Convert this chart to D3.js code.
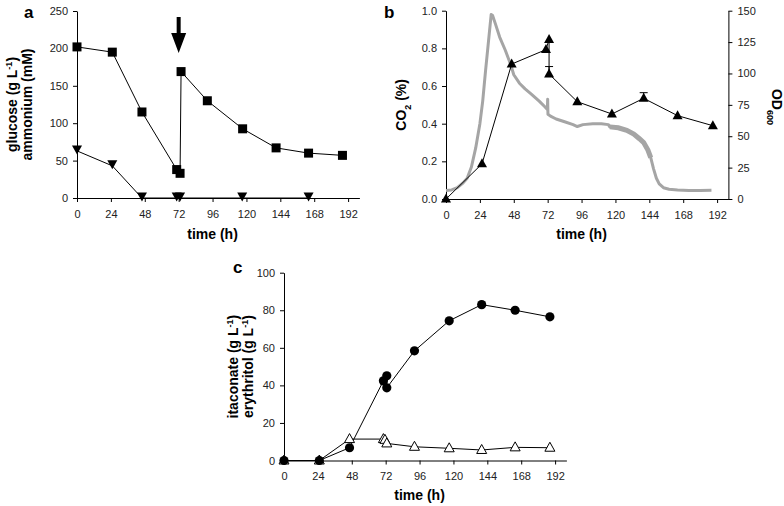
<!DOCTYPE html>
<html><head><meta charset="utf-8">
<script src="https://cdn.jsdelivr.net/npm/d3@7"></script>
<style>
body{margin:0;background:#fff}
svg{display:block}
text{font-family:"Liberation Sans",Arial,sans-serif}
</style>
</head><body>
<svg id="chart" width="784" height="506"></svg>
<script>
// ---------- shared ----------
const timeTicks = [0, 24, 48, 72, 96, 120, 144, 168, 192];

// ---------- panel a ----------
const glucoseTime = [0, 25, 46, 70.6, 73, 73.7, 92.3, 117.3, 141, 164, 188];
const glucose     = [202, 195, 115, 38, 33, 169, 130, 92.5, 67, 60, 57];
const ammoniumTime = [0, 25, 46, 70.6, 73, 117, 164];
const ammonium     = [63, 43, 0, 0, 0, 0, 0];
const glucoseTicks = [0, 50, 100, 150, 200, 250];
const feedArrow = {time: 72, from: 242, to: 194};

// ---------- panel b ----------
const odTime = [0, 25.5, 46.5, 70.8, 73, 73, 93, 117.5, 140, 164, 189];
const od     = [0, 28, 107.5, 119, 127, 99.6, 77.5, 67.7, 80.2, 66.4, 58.4];
const odErrTime = [73, 140];
const odErrHigh = [105.5, 84.7];
const odTicks = [0, 25, 50, 75, 100, 125, 150];
const co2Ticks = [0, 0.2, 0.4, 0.6, 0.8, 1.0];
const co2Time = [0, 4, 8, 12, 15, 18, 21, 24, 26, 28, 30, 32, 33, 35, 38, 42, 46, 48, 52, 56, 60, 66, 70, 71.8, 72, 72.2, 74, 78, 84, 90, 93, 97, 104, 110, 115, 116, 122, 128, 133, 137, 140, 143, 145, 147, 149, 151, 154, 158, 164, 172, 180, 188];
const co2      = [0.045, 0.048, 0.06, 0.085, 0.11, 0.17, 0.27, 0.40, 0.52, 0.68, 0.83, 0.98, 0.975, 0.93, 0.86, 0.79, 0.71, 0.66, 0.615, 0.585, 0.56, 0.52, 0.49, 0.475, 0.53, 0.45, 0.44, 0.425, 0.41, 0.395, 0.385, 0.395, 0.4, 0.4, 0.395, 0.383, 0.378, 0.365, 0.345, 0.32, 0.30, 0.26, 0.22, 0.16, 0.11, 0.08, 0.06, 0.052, 0.048, 0.045, 0.045, 0.046];

// ---------- panel c ----------
const itaconateTime = [0, 25, 46.4, 70.4, 72.8, 72.8, 92.4, 117, 140, 163.7, 188.3];
const itaconate     = [0, 0, 6.8, 42.4, 45.1, 38.7, 58.4, 74.4, 83, 80, 76.5];
const erythritolTime = [0, 25, 46.4, 70.4, 71.5, 72.8, 92.4, 117, 140, 163.7, 188.3];
const erythritol     = [0, 0, 11.4, 11.4, 11, 9.1, 7.3, 6.5, 5.6, 7.0, 6.8];
const productTicks = [0, 20, 40, 60, 80, 100];

// ---------- drawing ----------
const svg = d3.select("#chart");
svg.append("rect").attr("width", 784).attr("height", 506).attr("fill", "#fff");

const TICKFONT = 11, TITLEFONT = 14;

function styleAxis(g) {
  g.selectAll("path.domain").attr("stroke", "#000").attr("stroke-width", 1);
  g.selectAll(".tick line").attr("stroke", "#000").attr("stroke-width", 1);
  g.selectAll(".tick text").attr("font-size", TICKFONT).attr("fill", "#222")
    .attr("font-family", '"Liberation Sans",Arial,sans-serif');
}
function xAxis(x, yPix) {
  const g = svg.append("g").attr("transform", `translate(0,${yPix})`)
    .call(d3.axisBottom(x).tickValues(timeTicks).tickSize(4).tickPadding(8).tickSizeOuter(0));
  styleAxis(g);
  return g;
}
function yAxisLeft(y, xPix, ticks, fmt) {
  const g = svg.append("g").attr("transform", `translate(${xPix},0)`)
    .call(d3.axisLeft(y).tickValues(ticks).tickSize(4).tickPadding(5).tickSizeOuter(0).tickFormat(fmt || d3.format("d")));
  styleAxis(g);
  return g;
}
function timeTitle(x) {
  const [a, b] = x.range();
  svg.append("text").attr("x", (a + b) / 2 - 20).attr("y", 0)
    .attr("text-anchor", "middle").attr("font-weight", "bold").attr("font-size", TITLEFONT)
    .text("time (h)");
}
function panelLabel(txt, x, y) {
  svg.append("text").attr("x", x).attr("y", y).attr("font-weight", "bold").attr("font-size", 17).text(txt);
}
function rotatedTitle(x, y, angle, parts) {
  const t = svg.append("text").attr("transform", `translate(${x},${y}) rotate(${angle})`)
    .attr("text-anchor", "middle").attr("font-weight", "bold").attr("font-size", TITLEFONT);
  parts.forEach(p => {
    const s = t.append("tspan").text(p.t);
    if (p.sup) s.attr("baseline-shift", "super").attr("font-size", 9);
    if (p.sub) s.attr("baseline-shift", "sub").attr("font-size", 9);
  });
}
const trianglePath = (w, h, down) => down
  ? `M${-w/2},${-h/2}L${w/2},${-h/2}L0,${h/2}Z`
  : `M${-w/2},${h/2}L${w/2},${h/2}L0,${-h/2}Z`;

// ===== Panel a =====
const xA = d3.scaleLinear().domain([0, 200]).range([77, 359.4]);
const yA = d3.scaleLinear().domain([0, 250]).range([198, 11]);
xAxis(xA, yA(0));
yAxisLeft(yA, xA(0), glucoseTicks);
svg.append("text").attr("x", (xA(0) + xA(192)) / 2).attr("y", yA(0) + 41)
  .attr("text-anchor", "middle").attr("font-weight", "bold").attr("font-size", TITLEFONT).text("time (h)");
rotatedTitle(17, (yA(0) + yA(250)) / 2, -90, [{t: "glucose (g L"}, {t: "-1", sup: true}, {t: ")"}]);
rotatedTitle(32, (yA(0) + yA(250)) / 2, -90, [{t: "ammonium (mM)"}]);
panelLabel("a", 24, 18);

const lineA = (ts, vs) => d3.line().x((d, i) => xA(ts[i])).y(d => yA(d))(vs);
svg.append("path").attr("d", lineA(glucoseTime, glucose)).attr("fill", "none").attr("stroke", "#000").attr("stroke-width", 1);
svg.append("path").attr("d", lineA(ammoniumTime, ammonium)).attr("fill", "none").attr("stroke", "#000").attr("stroke-width", 1);
svg.selectAll(null).data(glucose).enter().append("rect")
  .attr("x", (d, i) => xA(glucoseTime[i]) - 4.5).attr("y", d => yA(d) - 4.5)
  .attr("width", 9).attr("height", 9).attr("fill", "#000");
svg.selectAll(null).data(ammonium).enter().append("path")
  .attr("transform", (d, i) => `translate(${xA(ammoniumTime[i])},${yA(d) - 1})`)
  .attr("d", trianglePath(10, 9, true)).attr("fill", "#000");
// feed arrow
{
  const ax = xA(feedArrow.time), y0 = yA(feedArrow.from), y1 = yA(feedArrow.to);
  const headLen = 20, headW = 15, shaftW = 4;
  const yh = y1 - headLen;
  svg.append("path").attr("fill", "#000")
    .attr("d", `M${ax - shaftW/2},${y0}L${ax + shaftW/2},${y0}L${ax + shaftW/2},${yh}L${ax + headW/2},${yh}L${ax},${y1}L${ax - headW/2},${yh}L${ax - shaftW/2},${yh}Z`);
}

// ===== Panel b =====
const xB = d3.scaleLinear().domain([0, 200]).range([446, 728.4]);
const yB = d3.scaleLinear().domain([0, 1]).range([199, 10.7]);
const yOD = d3.scaleLinear().domain([0, 150]).range([199, 10.7]);
xAxis(xB, yB(0));
yAxisLeft(yB, xB(0), co2Ticks, d3.format(".1f"));
{
  const g = svg.append("g").attr("transform", `translate(${xB(200)},0)`)
    .call(d3.axisRight(yOD).tickValues(odTicks).tickSize(4).tickPadding(5).tickSizeOuter(0));
  styleAxis(g);
}
svg.append("text").attr("x", (xB(0) + xB(192)) / 2).attr("y", yB(0) + 40)
  .attr("text-anchor", "middle").attr("font-weight", "bold").attr("font-size", TITLEFONT).text("time (h)");
rotatedTitle(406, (yB(0) + yB(1)) / 2, -90, [{t: "CO"}, {t: "2", sub: true}, {t: " (%)"}]);
rotatedTitle(772, 107, 90, [{t: "OD"}, {t: "600", sub: true}]);
panelLabel("b", 384, 18);

const co2Line = d3.line().x((d, i) => xB(co2Time[i])).y(d => yB(d));
svg.append("path").attr("d", co2Line(co2)).attr("fill", "none").attr("stroke", "#a5a5a5")
  .attr("stroke-width", 3).attr("stroke-linejoin", "round");
// noisier (thicker) part of the CO2 trace
{
  const idx = co2Time.map((t, i) => i).filter(i => co2Time[i] >= 116 && co2Time[i] <= 146);
  const sub = idx.map(i => [xB(co2Time[i]), yB(co2[i])]);
  svg.append("path").attr("d", d3.line()(sub)).attr("fill", "none").attr("stroke", "#a5a5a5").attr("stroke-width", 5);
}
const odLine = d3.line().x((d, i) => xB(odTime[i])).y(d => yOD(d));
svg.append("path").attr("d", odLine(od)).attr("fill", "none").attr("stroke", "#000").attr("stroke-width", 1);
odErrTime.forEach((t, i) => {
  const xi = odTime.findIndex((tt, k) => tt === t && (i === 0 ? od[k] < 110 : true));
  const x = xB(t), yTop = yOD(odErrHigh[i]), yC = yOD(od[xi]);
  svg.append("line").attr("x1", x).attr("x2", x).attr("y1", yC).attr("y2", yTop).attr("stroke", "#000");
  svg.append("line").attr("x1", x - 4).attr("x2", x + 4).attr("y1", yTop).attr("y2", yTop).attr("stroke", "#000");
});
svg.selectAll(null).data(od).enter().append("path")
  .attr("transform", (d, i) => `translate(${xB(odTime[i])},${yOD(d) - 1})`)
  .attr("d", trianglePath(10, 9, false)).attr("fill", "#000");

// ===== Panel c =====
const xC = d3.scaleLinear().domain([0, 200]).range([284, 566.4]);
const yC = d3.scaleLinear().domain([0, 100]).range([460.5, 272.7]);
xAxis(xC, yC(0));
yAxisLeft(yC, xC(0), productTicks);
svg.append("text").attr("x", (xC(0) + xC(192)) / 2).attr("y", yC(0) + 39)
  .attr("text-anchor", "middle").attr("font-weight", "bold").attr("font-size", TITLEFONT).text("time (h)");
rotatedTitle(238, (yC(0) + yC(100)) / 2, -90, [{t: "itaconate (g L"}, {t: "-1", sup: true}, {t: ")"}]);
rotatedTitle(253, (yC(0) + yC(100)) / 2, -90, [{t: "erythritol (g L"}, {t: "-1", sup: true}, {t: ")"}]);
panelLabel("c", 233, 273);

const lineC = (ts, vs) => d3.line().x((d, i) => xC(ts[i])).y(d => yC(d))(vs);
svg.append("path").attr("d", lineC(erythritolTime, erythritol)).attr("fill", "none").attr("stroke", "#000").attr("stroke-width", 1);
svg.append("path").attr("d", lineC(itaconateTime, itaconate)).attr("fill", "none").attr("stroke", "#000").attr("stroke-width", 1);
svg.selectAll(null).data(erythritol).enter().append("path")
  .attr("transform", (d, i) => `translate(${xC(erythritolTime[i])},${yC(d) - 1})`)
  .attr("d", trianglePath(10, 9, false)).attr("fill", "#fff").attr("stroke", "#000").attr("stroke-width", 1);
svg.selectAll(null).data(itaconate).enter().append("circle")
  .attr("cx", (d, i) => xC(itaconateTime[i])).attr("cy", d => yC(d))
  .attr("r", 4.6).attr("fill", "#000");
</script>
</body></html>
